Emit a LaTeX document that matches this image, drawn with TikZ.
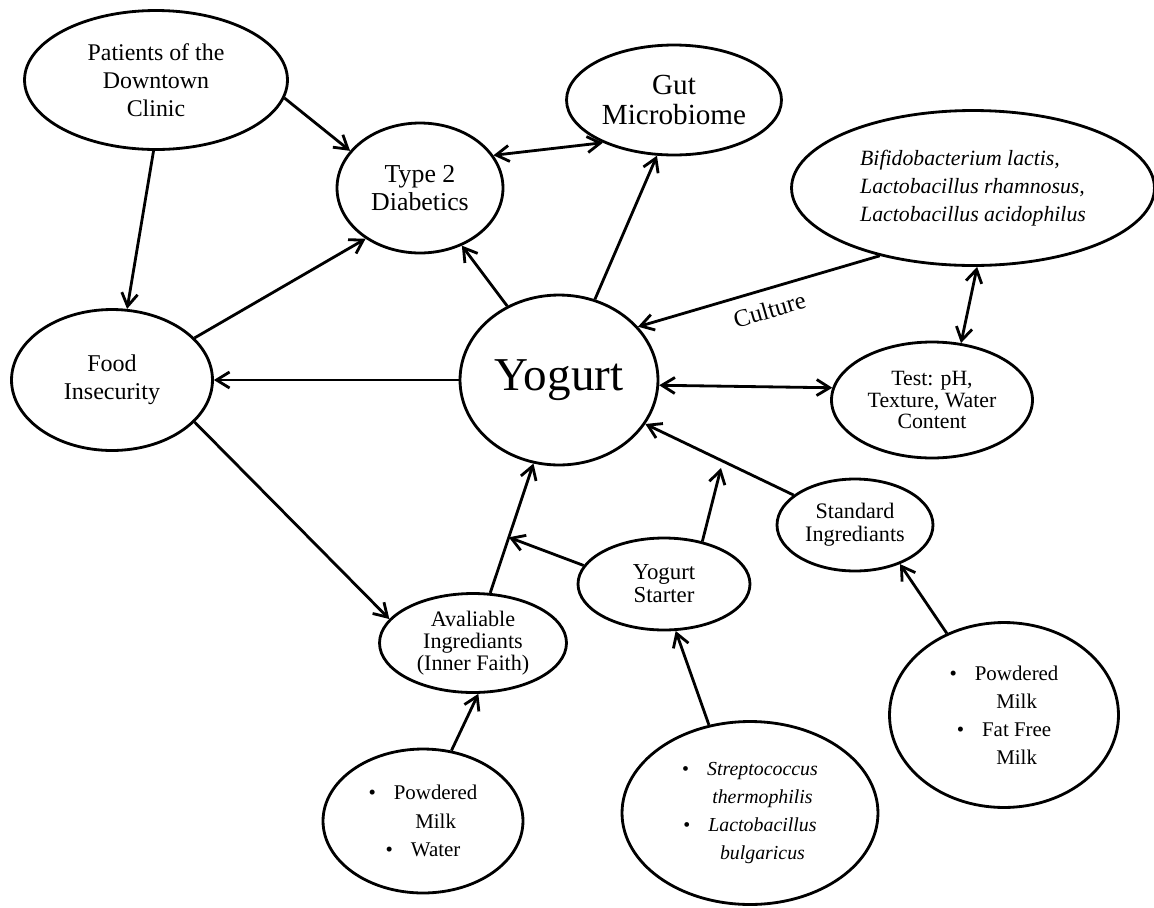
\documentclass[tikz,border=0pt]{standalone}
\usepackage{fontspec}
\setmainfont{Liberation Serif}
\usetikzlibrary{arrows.meta, shapes.geometric, calc}

\newcommand{\bul}{{\upshape\textbullet}\hspace{3.6mm}}
\newcommand{\nobul}{\hphantom{\textbullet\hspace{3.6mm}}}

\begin{document}
\begin{tikzpicture}[x=0.02cm, y=-0.02cm, line width=1.6pt,
		>={Straight Barb[length=2.6mm, width=3.2mm]},
		bubble/.style={draw, ellipse, inner sep=0pt, align=center}]
		\useasboundingbox (0,0) rectangle (1154,907);
		
		\node[bubble, minimum width=5.26cm, minimum height=2.78cm, font=\fontsize{13.6}{16}\selectfont] (n1) at (156,80) {Patients of the\\Downtown\\Clinic};
		\node[bubble, minimum width=3.32cm, minimum height=2.6cm, font=\fontsize{14.7}{15.5}\selectfont] (n2) at (420,188) {Type 2\\Diabetics};
		\node[bubble, minimum width=4.3cm, minimum height=2.2cm, font=\fontsize{16.6}{17}\selectfont] (n3) at (674,100) {Gut\\Microbiome};
		\node[bubble, align=left, minimum width=7.26cm, minimum height=3.1cm, font=\itshape\fontsize{12.4}{16}\selectfont] (n4) at (973,188) {Bifidobacterium lactis,\\Lactobacillus rhamnosus,\\Lactobacillus acidophilus};
		\node[bubble, minimum width=4.02cm, minimum height=2.82cm, font=\fontsize{13.7}{16}\selectfont] (n5) at (112,380) {Food\\Insecurity};
		\node[bubble, minimum width=3.96cm, minimum height=3.4cm, font=\fontsize{26.8}{30}\selectfont] (n6) at (559,380) {Yogurt};
		\node[bubble, minimum width=4.02cm, minimum height=2.32cm, font=\fontsize{12.4}{12}\selectfont] (n7) at (932,400) {Test: pH,\\Texture, Water\\Content};
		\node[bubble, minimum width=3.12cm, minimum height=1.84cm, font=\fontsize{12.6}{13}\selectfont] (n8) at (855,525) {Standard\\Ingrediants};
		\node[bubble, minimum width=3.44cm, minimum height=1.84cm, font=\fontsize{13}{13}\selectfont] (n9) at (664,584) {Yogurt\\Starter};
		\node[bubble, minimum width=3.74cm, minimum height=1.98cm, font=\fontsize{12.6}{12.5}\selectfont] (n10) at (473,643) {Avaliable\\Ingrediants\\(Inner Faith)};
		\node[bubble, minimum width=4.0cm, minimum height=2.88cm, font=\fontsize{11.9}{16}\selectfont] (n11) at (423,821) {\bul Powdered\\\nobul Milk\\\bul Water};
		\node[bubble, minimum width=5.12cm, minimum height=3.66cm, font=\itshape\fontsize{11.3}{16}\selectfont] (n12) at (750,813) {\bul Streptococcus\\\nobul thermophilis\\\bul Lactobacillus\\\nobul bulgaricus};
		\node[bubble, minimum width=4.58cm, minimum height=3.7cm, font=\fontsize{11.9}{16}\selectfont] (n13) at (1004,715) {\bul Powdered\\\nobul Milk\\\bul Fat Free\\\nobul Milk};
		
		\coordinate (j1) at ($(n10.71)!0.43!(n6.253)$);
		\coordinate (f1) at (721,468);
		
		\draw[->] (n1.-8) -- (n2.152);
		\draw[->] (n1.268) -- (n5.78);
		\draw[->] (n5.27) -- (n2.223);
		\draw[<->] (n2.24) -- (n3.211);
		\draw[->] (n6.125) -- (n2.-54);
		\draw[->] (n6.66) -- (n3.253);
		\draw[->] (n4.216) -- node[sloped, below, pos=0.48, inner sep=6pt, font=\fontsize{14}{16}\selectfont] (c1) {Culture} (n6.34);
		\draw[<->] (n4.273) -- (n7.63);
		\draw[->] (n6.180) -- (n5.0);
		\draw[<->] (n6.-3) -- (n7.173);
		\draw[->] (n5.-27) -- (n10.164);
		\draw[->] (n10.71) -- (n6.253);
		\draw[->] (n9.167) -- (j1);
		\draw[->] (n9.48) -- (f1);
		\draw[->] (n8.154) -- (n6.-27);
		\draw[->] (n11.68) -- (n10.-84);
		\draw[->] (n12.115) -- (n9.-76);
		\draw[->] (n13.125) -- (n8.-41);
		
		\end{tikzpicture}
\end{document}
